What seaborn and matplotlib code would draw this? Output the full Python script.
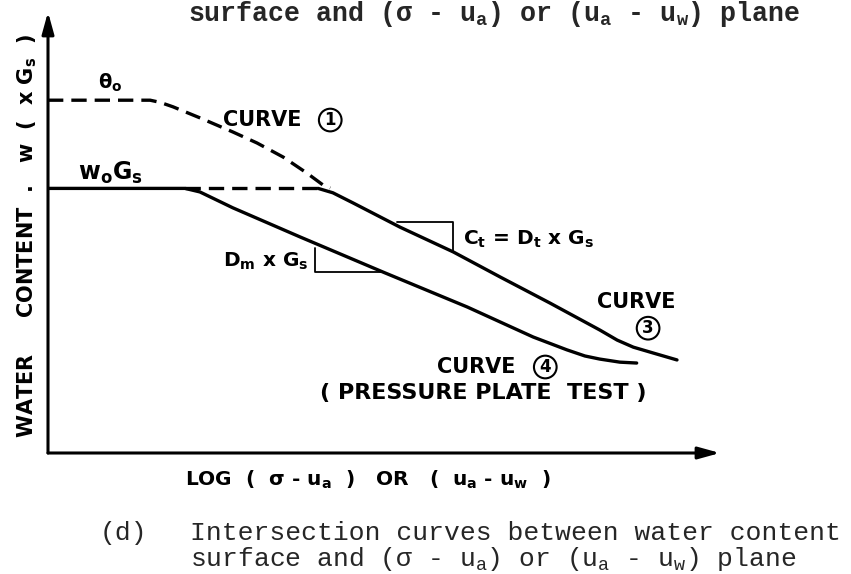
import matplotlib
matplotlib.use("Agg")
import matplotlib.pyplot as plt
import seaborn as sns
import pandas as pd

sns.set_theme(style="white")
plt.rcParams["font.family"] = ["DejaVu Sans"]
plt.rcParams["mathtext.default"] = "regular"

# Horizontal axis: log of stress state variable (arbitrary units)
# Vertical axis: water content expressed as w x Gs (arbitrary units)
curve1_x = [0.00, 1.52, 1.67, 1.86, 2.26, 2.75, 3.11, 3.50, 3.85, 4.09, 4.20]
curve1_y = [8.00, 8.00, 7.95, 7.85, 7.60, 7.28, 7.03, 6.71, 6.35, 6.08, 6.01]

curve4_x = [0.00, 2.04, 2.26, 2.75, 3.75, 4.99, 6.24, 7.22, 7.72, 7.99, 8.21, 8.51, 8.76]
curve4_y = [6.00, 6.00, 5.92, 5.56, 4.90, 4.10, 3.31, 2.63, 2.34, 2.20, 2.13, 2.06, 2.04]

plateau_x = [2.04, 4.05]
plateau_y = [6.00, 6.00]

curve3_x = [4.02, 4.24, 4.54, 5.24, 6.03, 6.73, 7.47, 8.21, 8.47, 8.71, 9.00, 9.36]
curve3_y = [6.00, 5.90, 5.67, 5.12, 4.56, 3.99, 3.40, 2.79, 2.56, 2.40, 2.27, 2.11]

# slope triangles
ct_tri_x = [5.20, 6.03, 6.03]
ct_tri_y = [5.24, 5.24, 4.56]
dm_tri_x = [3.97, 3.97, 4.99]
dm_tri_y = [4.65, 4.10, 4.10]

AXIS_MAX = 10.0

fig = plt.figure(figsize=(8.51, 5.74), dpi=100)
fig.patch.set_facecolor("white")
ax = fig.add_axes([48 / 851, 121 / 574, 672 / 851, 441 / 574])
ax.set_xlim(0, AXIS_MAX)
ax.set_ylim(0, AXIS_MAX)
ax.set_facecolor("white")
for s in ax.spines.values():
    s.set_visible(False)
ax.set_xticks([])
ax.set_yticks([])

dash = (0, (4.6, 2.4))
lw = 2.4

sns.lineplot(data=pd.DataFrame({"x": curve1_x, "y": curve1_y}), x="x", y="y",
             ax=ax, color="black", lw=lw, linestyle=dash, estimator=None,
             errorbar=None, sort=False)
sns.lineplot(data=pd.DataFrame({"x": plateau_x, "y": plateau_y}), x="x", y="y",
             ax=ax, color="black", lw=lw, linestyle=dash, estimator=None,
             errorbar=None, sort=False)
sns.lineplot(data=pd.DataFrame({"x": curve4_x, "y": curve4_y}), x="x", y="y",
             ax=ax, color="black", lw=lw, estimator=None, errorbar=None, sort=False)
sns.lineplot(data=pd.DataFrame({"x": curve3_x, "y": curve3_y}), x="x", y="y",
             ax=ax, color="black", lw=lw, estimator=None, errorbar=None, sort=False)

ax.plot(ct_tri_x, ct_tri_y, color="black", lw=1.3)
ax.plot(dm_tri_x, dm_tri_y, color="black", lw=1.3)

ax.set_xlabel("")
ax.set_ylabel("")

# axes drawn as arrows
arrow = dict(arrowstyle="-|>,head_length=0.87,head_width=0.24", lw=2.2,
             color="black", mutation_scale=15, shrinkA=0, shrinkB=0)
ax.annotate("", xy=(AXIS_MAX, 0), xytext=(0, 0), arrowprops=arrow,
            annotation_clip=False)
ax.annotate("", xy=(0, AXIS_MAX), xytext=(0, 0), arrowprops=arrow,
            annotation_clip=False)

lab = dict(weight="bold", color="black")
circ = dict(boxstyle="circle,pad=0.14", fc="none", ec="black", lw=1.5)

ax.text(0.92, 8.39, "θ$_o$", ha="center", va="center", fontsize=14, **lab)
ax.text(2.60, 7.55, "CURVE", ha="left", va="center", fontsize=15, **lab)
ax.text(4.20, 7.55, "1", ha="center", va="center", fontsize=12, bbox=circ, **lab)
ax.text(0.45, 6.35, "w$_o$G$_s$", ha="left", va="center", fontsize=17, **lab)
ax.text(3.88, 4.35, "D$_m$ x G$_s$", ha="right", va="center", fontsize=14.5, **lab)
ax.text(6.18, 4.85, "C$_t$ = D$_t$ x G$_s$", ha="left", va="center",
        fontsize=14.5, **lab)
ax.text(8.17, 3.42, "CURVE", ha="left", va="center", fontsize=15, **lab)
ax.text(8.93, 2.83, "3", ha="center", va="center", fontsize=12, bbox=circ, **lab)
ax.text(5.79, 1.95, "CURVE", ha="left", va="center", fontsize=15, **lab)
ax.text(7.40, 1.95, "4", ha="center", va="center", fontsize=12, bbox=circ, **lab)
ax.text(4.05, 1.36, "( PRESSURE PLATE  TEST )", ha="left", va="center",
        fontsize=16, **lab)

fig.text(27 / 851, 1 - 236 / 574, "WATER     CONTENT  .   w  (  x G$_s$  )",
         rotation=90, ha="center", va="center", fontsize=15, **lab)
fig.text(185 / 851, 1 - 480 / 574,
         "LOG  (  σ - u$_a$  )   OR   (  u$_a$ - u$_w$  )",
         ha="left", va="center", fontsize=14.5, **lab)

mono = ["Liberation Mono", "DejaVu Sans Mono"]
fig.text(188 / 851, 1 - 21 / 574,
         "surface and (σ - u$_a$) or (u$_a$ - u$_w$) plane",
         family=mono, weight="bold", fontsize=19.2, ha="left", va="baseline")
fig.text(100 / 851, 1 - 540 / 574, "(d)", family=mono, fontsize=19,
         ha="left", va="baseline")
fig.text(190 / 851, 1 - 540 / 574, "Intersection curves between water content",
         family=mono, fontsize=19, ha="left", va="baseline")
fig.text(190 / 851, 1 - 566 / 574,
         "surface and (σ - u$_a$) or (u$_a$ - u$_w$) plane",
         family=mono, fontsize=19, ha="left", va="baseline")

fig.savefig("out.png", dpi=100, facecolor="white")
